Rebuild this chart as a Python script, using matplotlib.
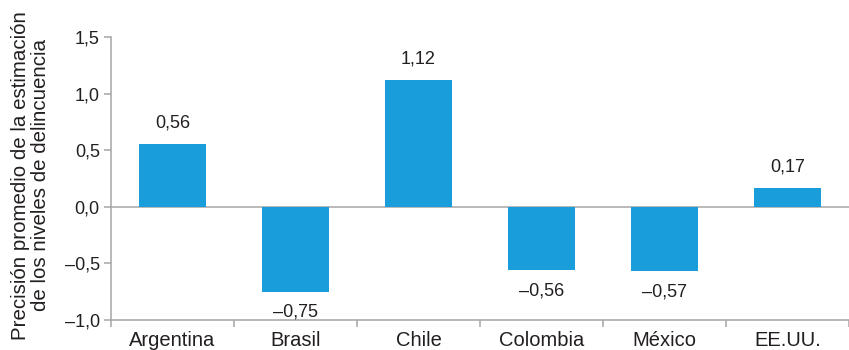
import matplotlib
matplotlib.use("Agg")
import matplotlib.pyplot as plt
import numpy as np

plt.rcParams['font.family'] = ['Liberation Sans', 'DejaVu Sans']

paises = ["Argentina", "Brasil", "Chile", "Colombia", "México", "EE.UU."]
precision = [0.56, -0.75, 1.12, -0.56, -0.57, 0.17]
yticks = [-1.0, -0.5, 0.0, 0.5, 1.0, 1.5]

azul = "#1a9edb"
gris = "#a6a6a6"
texto = "#231f20"

def fmt(v, dec):
    s = f"{abs(v):.{dec}f}".replace(".", ",")
    return ("–" + s) if v < 0 else s

fig = plt.figure(figsize=(8.49, 3.5), dpi=100)
ax = fig.add_axes([0.1307, 0.0857, 0.8693, 0.808])

x = np.arange(len(paises))
ax.bar(x, precision, width=0.54, color=azul, zorder=2)
ax.axhline(0, color=gris, lw=1.1, zorder=1)

for xi, v in zip(x, precision):
    if v >= 0:
        ax.annotate(fmt(v, 2), (xi, v), xytext=(0, 9), textcoords="offset points",
                    ha="center", va="bottom", fontsize=13, color=texto)
    else:
        ax.annotate(fmt(v, 2), (xi, v), xytext=(0, -8.5), textcoords="offset points",
                    ha="center", va="top", fontsize=13, color=texto)

ax.set_xlim(-0.5, len(paises) - 0.5)
ax.set_ylim(-1.0, 1.5)
ax.set_yticks(yticks)
ax.set_yticklabels([fmt(t, 1) for t in yticks], fontsize=13, color=texto)

# category ticks sit between bars; labels are centred on bars
ax.set_xticks(np.arange(len(paises) + 1) - 0.5)
ax.set_xticklabels([])
ax.set_xticks(x, minor=True)
ax.set_xticklabels(paises, minor=True, fontsize=14.5, color=texto)
ax.tick_params(axis="x", which="minor", length=0, pad=8)
ax.tick_params(axis="x", which="major", length=5, color=gris, width=1.1, direction="out")
ax.tick_params(axis="y", length=5, color=gris, width=1.1, pad=3)

for s in ["top", "right"]:
    ax.spines[s].set_visible(False)
for s in ["left", "bottom"]:
    ax.spines[s].set_color(gris)
    ax.spines[s].set_linewidth(1.1)

ax.set_ylabel("Precisión promedio de la estimación\nde los niveles de delincuencia",
              fontsize=14.8, color=texto, linespacing=1.12)
ax.yaxis.set_label_coords(-0.082, 0.512)

fig.savefig("out.png", dpi=100)
